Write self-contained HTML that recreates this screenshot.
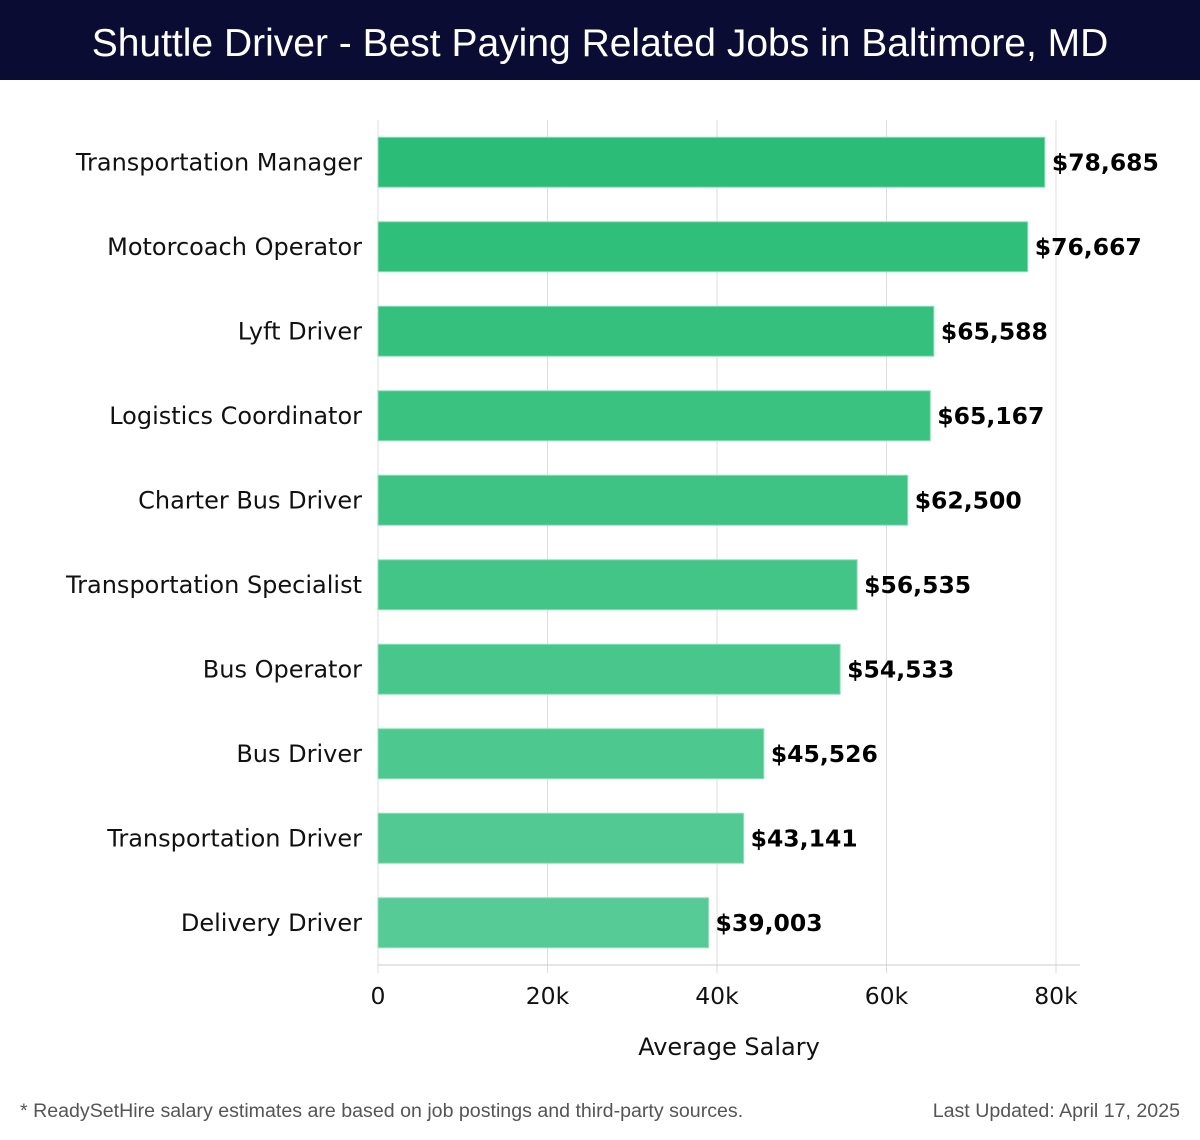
<!DOCTYPE html>
<html><head><meta charset="utf-8"><style>
body{margin:0;width:1200px;height:1140px;background:#fff;font-family:"DejaVu Sans","Liberation Sans",sans-serif;overflow:hidden}
#title{position:absolute;left:0;top:0;width:1200px;height:80px;background:#0b0c33;color:#fff;font-size:39px;text-align:center;line-height:88px;font-family:"Liberation Sans","DejaVu Sans",sans-serif}
.foot{position:absolute;top:1100px;font-size:19.6px;color:#555;font-family:"Liberation Sans",sans-serif}
</style></head><body>
<div id="title">Shuttle Driver - Best Paying Related Jobs in Baltimore, MD</div>
<svg id="chart" width="1200" height="1090" style="position:absolute;left:0;top:0"></svg>
<div class="foot" style="left:20px">* ReadySetHire salary estimates are based on job postings and third-party sources.</div>
<div class="foot" style="right:20px">Last Updated: April 17, 2025</div>
<script>
const categories=["Transportation Manager","Motorcoach Operator","Lyft Driver","Logistics Coordinator","Charter Bus Driver","Transportation Specialist","Bus Operator","Bus Driver","Transportation Driver","Delivery Driver"];
const values=[78685,76667,65588,65167,62500,56535,54533,45526,43141,39003];
const valueLabels=["$78,685","$76,667","$65,588","$65,167","$62,500","$56,535","$54,533","$45,526","$43,141","$39,003"];
const ticks=[0,20000,40000,60000,80000];
const tickLabels=["0","20k","40k","60k","80k"];
const NS="http://www.w3.org/2000/svg";
const svg=document.getElementById('chart');
const X0=378,X1=1056,PT=120,PB=965,BAND=(PB-PT)/categories.length;
const xs=v=>X0+(v/80000)*(X1-X0);
function mk(t,a){const e=document.createElementNS(NS,t);for(const k in a)e.setAttribute(k,a[k]);svg.appendChild(e);return e;}
ticks.forEach((t,i)=>{
 const g=mk('line',{x1:xs(t),x2:xs(t),y1:PT,y2:PB+8,stroke:'#ddd','stroke-width':1});
 
 
 const tx=mk('text',{x:xs(t),y:1004,'text-anchor':'middle','font-size':23.5,fill:'#111'});
 tx.textContent=tickLabels[i];
 
 
});
const ax=mk('line',{x1:X0,x2:1080,y1:PB,y2:PB,stroke:'#ccc'});


const c0=[43,189,119],c1=[87,203,150];
categories.forEach((c,i)=>{
 const cy=PT+BAND*(i+0.5);
 const f=i/(categories.length-1);
 const col=`rgb(${c0.map((v,k)=>Math.round(v+(c1[k]-v)*f)).join(',')})`;
 const r=mk('rect',{x:X0,y:cy-25,width:xs(values[i])-X0,height:50,fill:col,stroke:'#8fe0bb','stroke-width':1});
 
 
 const l=mk('text',{x:362,y:cy+8,'text-anchor':'end','font-size':24,fill:'#111'});
 l.textContent=c;
 
 
 const v=mk('text',{x:xs(values[i])+7,y:cy+8,'font-size':23.5,'font-weight':'bold',fill:'#000'});
 v.textContent=valueLabels[i];
 
 
});
const at=mk('text',{x:729,y:1055,'text-anchor':'middle','font-size':24,fill:'#111'});
at.textContent='Average Salary';


</script>
</body></html>
